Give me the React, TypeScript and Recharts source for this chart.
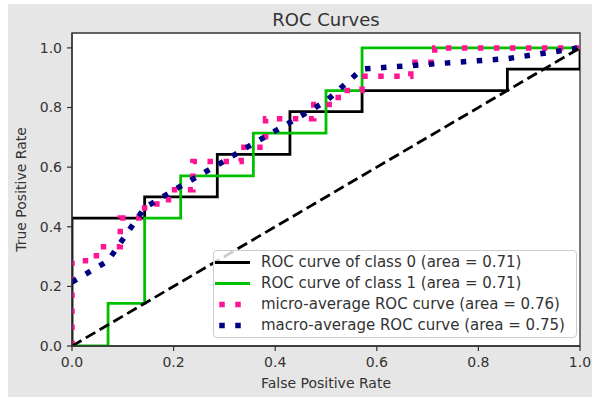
import React from 'react';
import { LineChart, Line, XAxis, YAxis, ReferenceArea, Legend } from 'recharts';

const FONT = '"DejaVu Sans", "Liberation Sans", sans-serif';
const TEXT = '#333333';

// ROC curve of class 0 (stepwise fpr / tpr pairs)
const class0Fpr = [0, 0, 0.143, 0.143, 0.286, 0.286, 0.429, 0.429, 0.571, 0.571, 0.857, 0.857, 1, 1];
const class0Tpr = [0, 0.429, 0.429, 0.5, 0.5, 0.643, 0.643, 0.786, 0.786, 0.857, 0.857, 0.929, 0.929, 1];
const class0Auc = 0.71;

// ROC curve of class 1
const class1Fpr = [0, 0.071, 0.071, 0.143, 0.143, 0.214, 0.214, 0.357, 0.357, 0.5, 0.5, 0.571, 0.571, 1];
const class1Tpr = [0, 0, 0.143, 0.143, 0.429, 0.429, 0.571, 0.571, 0.714, 0.714, 0.857, 0.857, 1, 1];
const class1Auc = 0.71;

// micro-average ROC curve
const microFpr = [0, 0, 0.048, 0.048, 0.095, 0.095, 0.143, 0.143, 0.19, 0.19, 0.238, 0.238, 0.333, 0.333,
  0.381, 0.381, 0.476, 0.476, 0.524, 0.524, 0.571, 0.571, 0.667, 0.667, 0.714, 0.714, 1];
const microTpr = [0, 0.286, 0.286, 0.333, 0.333, 0.429, 0.429, 0.476, 0.476, 0.524, 0.524, 0.619, 0.619, 0.667,
  0.667, 0.762, 0.762, 0.81, 0.81, 0.857, 0.857, 0.905, 0.905, 0.952, 0.952, 1, 1];
const microAuc = 0.76;

// macro-average ROC curve
const macroFpr = [0, 0.071, 0.143, 0.214, 0.286, 0.357, 0.429, 0.5, 0.571, 0.857, 1];
const macroTpr = [0.214, 0.286, 0.464, 0.536, 0.607, 0.679, 0.75, 0.821, 0.929, 0.964, 1];
const macroAuc = 0.75;

// chance diagonal
const chanceFpr = [0, 1];
const chanceTpr = [0, 1];

const xTicks = [0, 0.2, 0.4, 0.6, 0.8, 1.0];
const yTicks = [0, 0.2, 0.4, 0.6, 0.8, 1.0];

const zip = (xs: number[], ys: number[]) => xs.map((x, i) => ({ x, y: ys[i] }));

type Curve = {
  id: string;
  label: string;
  color: string;
  width: number;
  dash?: string;
  dotted: boolean;
  data: { x: number; y: number }[];
};

const curves: Curve[] = [
  { id: 'class0', label: `ROC curve of class 0 (area = ${class0Auc.toFixed(2)})`, color: '#000000', width: 2.8, dotted: false, data: zip(class0Fpr, class0Tpr) },
  { id: 'class1', label: `ROC curve of class 1 (area = ${class1Auc.toFixed(2)})`, color: '#00c000', width: 2.8, dotted: false, data: zip(class1Fpr, class1Tpr) },
  { id: 'micro', label: `micro-average ROC curve (area = ${microAuc.toFixed(2)})`, color: '#ff1493', width: 5.5, dash: '5.5 10.5', dotted: true, data: zip(microFpr, microTpr) },
  { id: 'macro', label: `macro-average ROC curve (area = ${macroAuc.toFixed(2)})`, color: '#000080', width: 5.5, dash: '5.5 10.5', dotted: true, data: zip(macroFpr, macroTpr) },
];

const chanceData = zip(chanceFpr, chanceTpr);

const LegendBox = () => (
  <div
    style={{
      boxSizing: 'border-box',
      width: 364,
      height: 88,
      border: '1px solid #cccccc',
      borderRadius: 4,
      background: 'rgba(255,255,255,0.8)',
      paddingTop: 0.5,
      fontFamily: FONT,
      fontSize: 15,
      color: TEXT,
    }}
  >
    {curves.map((c) => (
      <div key={c.id} style={{ display: 'flex', alignItems: 'center', height: 21, whiteSpace: 'nowrap' }}>
        <svg width={47} height={21} style={{ flex: 'none', display: 'block' }}>
          {c.dotted ? (
            <>
              <rect x={5.25} y={7.75} width={5.5} height={5.5} fill={c.color} />
              <rect x={21.25} y={7.75} width={5.5} height={5.5} fill={c.color} />
            </>
          ) : (
            <line x1={1} x2={36} y1={10.5} y2={10.5} stroke={c.color} strokeWidth={c.width} />
          )}
        </svg>
        <span style={{ lineHeight: '21px' }}>{c.label}</span>
      </div>
    ))}
  </div>
);

const renderXLabel = (props: any) => {
  const vb = props.viewBox;
  return (
    <text
      x={vb.x + vb.width / 2}
      y={vb.y + 37}
      textAnchor="middle"
      dominantBaseline="central"
      fill={TEXT}
      fontFamily={FONT}
      fontSize={14}
    >
      False Positive Rate
    </text>
  );
};

const renderYLabel = (props: any) => {
  const vb = props.viewBox;
  const cx = vb.x + 13;
  const cy = vb.y + vb.height / 2;
  return (
    <text
      x={cx}
      y={cy}
      transform={`rotate(-90 ${cx} ${cy})`}
      textAnchor="middle"
      dominantBaseline="central"
      fill={TEXT}
      fontFamily={FONT}
      fontSize={14}
    >
      True Positive Rate
    </text>
  );
};

export default function App() {
  return (
    <div style={{ position: 'absolute', left: 0, top: 0, width: 592, height: 397, background: '#ffffff', overflow: 'hidden' }}>
      <div style={{ position: 'absolute', left: 8, top: 4, width: 584, height: 393, background: '#e6e6e6' }} />
      <div
        style={{
          position: 'absolute',
          left: 226,
          width: 200,
          top: 9,
          lineHeight: '22px',
          textAlign: 'center',
          fontFamily: FONT,
          fontSize: 18,
          color: TEXT,
        }}
      >
        ROC Curves
      </div>
      <div style={{ position: 'absolute', left: 0, top: 0 }}>
        <LineChart width={592} height={397} margin={{ top: 33, right: 12, bottom: 11, left: 8 }}>
          <ReferenceArea
            x1={0}
            x2={1}
            y1={0}
            y2={1.05}
            fill="#ffffff"
            fillOpacity={1}
            stroke="#333333"
            strokeWidth={1.3}
            ifOverflow="visible"
          />
          <XAxis
            type="number"
            dataKey="x"
            domain={[0, 1]}
            ticks={xTicks}
            tickFormatter={(v: number) => v.toFixed(1)}
            allowDataOverflow
            height={40}
            tickSize={5}
            tickMargin={6}
            axisLine={{ stroke: '#333333', strokeWidth: 1.3 }}
            tickLine={{ stroke: '#333333', strokeWidth: 1.2 }}
            tick={{ fill: TEXT, fontSize: 14, fontFamily: FONT }}
            label={renderXLabel}
          />
          <YAxis
            type="number"
            dataKey="y"
            domain={[0, 1.05]}
            ticks={yTicks}
            tickFormatter={(v: number) => v.toFixed(1)}
            allowDataOverflow
            width={64}
            tickSize={5}
            tickMargin={5}
            axisLine={{ stroke: '#333333', strokeWidth: 1.3 }}
            tickLine={{ stroke: '#333333', strokeWidth: 1.2 }}
            tick={{ fill: TEXT, fontSize: 14, fontFamily: FONT }}
            label={renderYLabel}
          />
          {curves.map((c) => (
            <Line
              key={c.id}
              data={c.data}
              dataKey="y"
              name={c.label}
              type="linear"
              stroke={c.color}
              strokeWidth={c.width}
              strokeDasharray={c.dash}
              strokeLinecap="butt"
              dot={false}
              activeDot={false}
              isAnimationActive={false}
            />
          ))}
          <Line
            data={chanceData}
            dataKey="y"
            type="linear"
            stroke="#000000"
            strokeWidth={2.8}
            strokeDasharray="11 5"
            strokeLinecap="butt"
            dot={false}
            activeDot={false}
            legendType="none"
            isAnimationActive={false}
          />
          <Legend
            layout="horizontal"
            verticalAlign="middle"
            align="center"
            content={() => <LegendBox />}
            wrapperStyle={{ left: 213, top: 250, width: 364, height: 88, bottom: 'auto', right: 'auto' }}
          />
        </LineChart>
      </div>
    </div>
  );
}
